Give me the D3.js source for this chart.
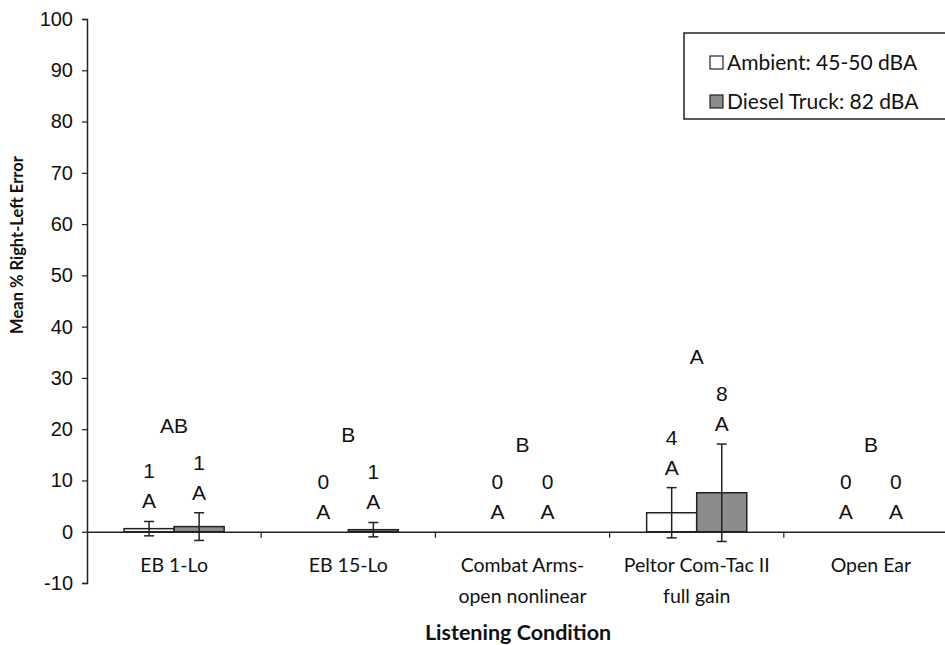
<!DOCTYPE html>
<html>
<head>
<meta charset="utf-8">
<script src="https://cdn.jsdelivr.net/npm/d3@7"></script>
<style>
    body { margin: 0; background: #fff; }
    svg { display: block; }
</style>
</head>
<body>
<div id="chart"></div>
<script>
const categories = ["EB 1-Lo", "EB 15-Lo", "Combat Arms-\nopen nonlinear", "Peltor Com-Tac II\nfull gain", "Open Ear"];
const seriesNames = ["Ambient: 45-50 dBA", "Diesel Truck: 82 dBA"];
const ambient = [0.6, 0, 0, 3.7, 0];
const ambientErr = [1.4, 0, 0, 4.9, 0];
const diesel = [1.0, 0.4, 0, 7.6, 0];
const dieselErr = [2.7, 1.4, 0, 9.5, 0];
const ambientCounts = ["1", "0", "0", "4", "0"];
const dieselCounts = ["1", "1", "0", "8", "0"];
const barLetters = ["A", "A", "A", "A", "A"];
const groupLetters = ["AB", "B", "B", "A", "B"];
const yTicks = [-10, 0, 10, 20, 30, 40, 50, 60, 70, 80, 90, 100];

const width = 945;
const height = 645;
const margin = { top: 19, right: -13, bottom: 62, left: 87 };

const svg = d3.select("#chart")
    .append("svg")
    .attr("width", width)
    .attr("height", height);

const y = d3.scaleLinear()
    .domain([-10, 100])
    .range([height - margin.bottom, margin.top]);

const x0 = d3.scaleBand()
    .domain(categories)
    .range([margin.left, width - margin.right])
    .padding(0);

const x1 = d3.scaleBand()
    .domain([0, 1])
    .range([0, x0.bandwidth()])
    .paddingInner(0)
    .paddingOuter(0.74);

const fills = ["#ffffff", "#8c8c8c"];
const rows = categories.map((c, i) => ({
    cat: c,
    bars: [
        { s: 0, v: ambient[i], e: ambientErr[i], n: ambientCounts[i], l: barLetters[i] },
        { s: 1, v: diesel[i], e: dieselErr[i], n: dieselCounts[i], l: barLetters[i] }
    ],
    group: groupLetters[i]
}));

const sansFont = "Lato, 'Open Sans', sans-serif";
const annFont = "Liberation Sans, Arial, sans-serif";

// y axis
const yAxis = d3.axisLeft(y).tickValues(yTicks).tickSize(5).tickPadding(9)
    .tickFormat(d => String(d));
const gy = svg.append("g")
    .attr("transform", `translate(${margin.left},0)`)
    .call(yAxis);
gy.select(".domain").attr("stroke", "#222").attr("stroke-width", 1.5);
gy.selectAll(".tick line").attr("stroke", "#222").attr("stroke-width", 1.2);
gy.selectAll(".tick text")
    .style("font-family", annFont)
    .style("font-size", "20px")
    .attr("fill", "#111");

// bars
const groups = svg.selectAll("g.cat")
    .data(rows)
    .enter()
    .append("g")
    .attr("class", "cat")
    .attr("transform", d => `translate(${x0(d.cat)},0)`);

groups.selectAll("rect")
    .data(d => d.bars.filter(b => b.v !== 0))
    .enter()
    .append("rect")
    .attr("x", b => x1(b.s))
    .attr("width", x1.bandwidth())
    .attr("y", b => y(Math.max(0, b.v)))
    .attr("height", b => Math.abs(y(b.v) - y(0)))
    .attr("fill", b => fills[b.s])
    .attr("stroke", "#222")
    .attr("stroke-width", 1.5);

// error bars
const errs = groups.selectAll("g.err")
    .data(d => d.bars.filter(b => b.e > 0))
    .enter()
    .append("g")
    .attr("class", "err")
    .attr("stroke", "#222")
    .attr("stroke-width", 1.5);
errs.append("line")
    .attr("x1", b => x1(b.s) + x1.bandwidth() / 2)
    .attr("x2", b => x1(b.s) + x1.bandwidth() / 2)
    .attr("y1", b => y(b.v + b.e))
    .attr("y2", b => y(b.v - b.e));
[1, -1].forEach(sign => {
    errs.append("line")
        .attr("x1", b => x1(b.s) + x1.bandwidth() / 2 - 5)
        .attr("x2", b => x1(b.s) + x1.bandwidth() / 2 + 5)
        .attr("y1", b => y(b.v + sign * b.e))
        .attr("y2", b => y(b.v + sign * b.e));
});

// x axis on zero line
const xAxis = d3.axisBottom(x0).tickSize(0).tickFormat("");
const gx = svg.append("g")
    .attr("transform", `translate(0,${y(0)})`)
    .call(xAxis);
gx.select(".domain").attr("stroke", "#222").attr("stroke-width", 1.5);
gx.selectAll(".boundary")
    .data(categories.slice(1))
    .enter()
    .append("line")
    .attr("x1", c => x0(c))
    .attr("x2", c => x0(c))
    .attr("y1", 0)
    .attr("y2", 6)
    .attr("stroke", "#222")
    .attr("stroke-width", 1.2);

// category labels
const catLabels = svg.selectAll("text.cat-label")
    .data(categories)
    .enter()
    .append("text")
    .attr("class", "cat-label")
    .attr("text-anchor", "middle")
    .attr("x", c => x0(c) + x0.bandwidth() / 2)
    .attr("y", y(0) + 40)
    .style("font-family", sansFont)
    .style("font-size", "19.5px")
    .attr("fill", "#111");
catLabels.each(function (c) {
    const lines = c.split("\n");
    d3.select(this).selectAll("tspan")
        .data(lines)
        .enter()
        .append("tspan")
        .attr("x", x0(c) + x0.bandwidth() / 2)
        .attr("dy", (l, i) => i === 0 ? 0 : 31)
        .text(l => l);
});

// annotations above each bar
const ann = groups.selectAll("g.ann")
    .data(d => d.bars)
    .enter()
    .append("g")
    .attr("class", "ann")
    .attr("font-family", annFont)
    .attr("font-size", "21px")
    .attr("fill", "#111")
    .attr("text-anchor", "middle");
ann.append("text")
    .attr("x", b => x1(b.s) + x1.bandwidth() / 2)
    .attr("y", b => y(Math.max(0, b.v + b.e)) - 13)
    .text(b => b.l);
ann.append("text")
    .attr("x", b => x1(b.s) + x1.bandwidth() / 2)
    .attr("y", b => y(Math.max(0, b.v + b.e)) - 43)
    .text(b => b.n);

// group letters
groups.append("text")
    .attr("x", x0.bandwidth() / 2)
    .attr("y", d => y(Math.max(0, d3.max(d.bars, b => b.v + b.e))) - 80)
    .attr("text-anchor", "middle")
    .attr("font-family", annFont)
    .attr("font-size", "21px")
    .attr("fill", "#111")
    .text(d => d.group);

// axis titles
svg.append("text")
    .attr("x", 518)
    .attr("y", 640)
    .attr("text-anchor", "middle")
    .style("font-family", sansFont)
    .style("font-weight", "bold")
    .style("font-size", "21.5px")
    .attr("fill", "#111")
    .text("Listening Condition");

svg.append("text")
    .attr("transform", `translate(23,${245}) rotate(-90)`)
    .attr("text-anchor", "middle")
    .style("font-family", sansFont)
    .style("font-weight", "bold")
    .style("font-size", "16.5px")
    .attr("fill", "#111")
    .text("Mean % Right-Left Error");

// legend
const legend = svg.append("g").attr("transform", "translate(684,33)");
legend.append("rect")
    .attr("width", 270)
    .attr("height", 86)
    .attr("fill", "#fff")
    .attr("stroke", "#222")
    .attr("stroke-width", 1.5);
const items = legend.selectAll("g.item")
    .data(seriesNames)
    .enter()
    .append("g")
    .attr("class", "item")
    .attr("transform", (d, i) => `translate(26,${30 + i * 39})`);
items.append("rect")
    .attr("x", 0)
    .attr("y", -7)
    .attr("width", 13)
    .attr("height", 13)
    .attr("fill", (d, i) => fills[i])
    .attr("stroke", "#222")
    .attr("stroke-width", 1.2);
items.append("text")
    .attr("x", 17)
    .attr("y", 0)
    .attr("dy", "0.35em")
    .style("font-family", sansFont)
    .style("font-size", "21px")
    .attr("fill", "#111")
    .text(d => d);
</script>
</body>
</html>
